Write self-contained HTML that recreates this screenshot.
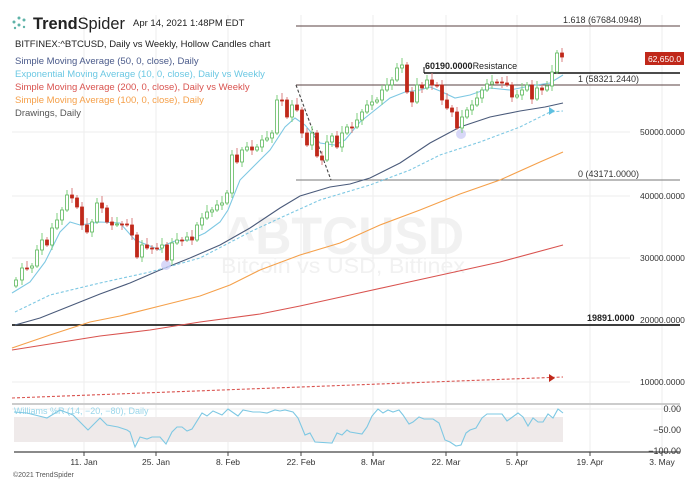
<!DOCTYPE html>
<html><head><meta charset="utf-8"><style>
body{margin:0;background:#fff;width:700px;height:481px;overflow:hidden;font-family:"Liberation Sans",sans-serif}
svg{display:block}
</style></head><body>
<svg id="s" width="700" height="481" xmlns="http://www.w3.org/2000/svg" font-family="Liberation Sans, sans-serif">
<g stroke="#eee" stroke-width="1">
<line x1="84" y1="15" x2="84" y2="452"/><line x1="156" y1="15" x2="156" y2="452"/><line x1="228" y1="15" x2="228" y2="452"/><line x1="301" y1="15" x2="301" y2="452"/><line x1="373" y1="15" x2="373" y2="452"/><line x1="446" y1="15" x2="446" y2="452"/><line x1="517" y1="15" x2="517" y2="452"/><line x1="590" y1="15" x2="590" y2="452"/><line x1="662" y1="15" x2="662" y2="452"/>
<line x1="12" y1="132" x2="630" y2="132"/><line x1="12" y1="196" x2="630" y2="196"/><line x1="12" y1="258" x2="630" y2="258"/><line x1="12" y1="382" x2="630" y2="382"/>
</g>
<text x="345" y="254" text-anchor="middle" font-size="53" font-weight="bold" fill="#f1f1f1" textLength="238" lengthAdjust="spacingAndGlyphs">^BTCUSD</text>
<text x="343" y="273" text-anchor="middle" font-size="21" fill="#f1f1f1" textLength="244" lengthAdjust="spacingAndGlyphs">Bitcoin vs USD, Bitfinex</text>
<!-- logo -->
<g fill="#5fb3a8"><circle cx="14" cy="22" r="1.5"/><circle cx="19" cy="18" r="1.5"/><circle cx="24" cy="20" r="1.5"/><circle cx="19" cy="25" r="1.5"/><circle cx="15" cy="28" r="1.2"/><circle cx="24" cy="27" r="1.2"/></g>
<text x="33" y="29" font-size="17" fill="#222" textLength="92" lengthAdjust="spacingAndGlyphs"><tspan font-weight="bold">Trend</tspan>Spider</text>
<text x="133" y="26" font-size="9.5" fill="#222">Apr 14, 2021 1:48PM EDT</text>
<g font-size="9.5">
<text x="15" y="47" fill="#222">BITFINEX:^BTCUSD, Daily vs Weekly, Hollow Candles chart</text>
<text x="15" y="64" fill="#4a5a8a">Simple Moving Average (50, 0, close), Daily</text>
<text x="15" y="77" fill="#6cc8e3">Exponential Moving Average (10, 0, close), Daily vs Weekly</text>
<text x="15" y="90" fill="#d9534f">Simple Moving Average (200, 0, close), Daily vs Weekly</text>
<text x="15" y="103" fill="#f5a04a">Simple Moving Average (100, 0, close), Daily</text>
<text x="15" y="116" fill="#555">Drawings, Daily</text>
</g>
<!-- fib / horizontal lines -->
<g stroke="#5a4040">
<line x1="296" y1="26" x2="680" y2="26"/>
<line x1="424" y1="73" x2="680" y2="73" stroke="#111" stroke-width="1.5"/>
<line x1="424" y1="67" x2="424" y2="73" stroke="#111"/>
<line x1="296" y1="85" x2="680" y2="85"/>
<line x1="296" y1="180" x2="680" y2="180" stroke="#777"/>
<line x1="12" y1="325" x2="680" y2="325" stroke="#222" stroke-width="1.8"/>
</g>
<g font-size="9" fill="#333">
<text x="563" y="23">1.618 (67684.0948)</text>
<text x="578" y="82">1 (58321.2440)</text>
<text x="578" y="177">0 (43171.0000)</text>
<text x="425" y="69" fill="#222"><tspan font-weight="bold">60190.0000</tspan>Resistance</text>
<text x="587" y="321" font-weight="bold" fill="#222">19891.0000</text>
<text x="640" y="135" font-size="8.5">50000.0000</text>
<text x="640" y="199" font-size="8.5">40000.0000</text>
<text x="640" y="261" font-size="8.5">30000.0000</text>
<text x="640" y="323" font-size="8.5">20000.0000</text>
<text x="640" y="385" font-size="8.5">10000.0000</text>
</g>
<rect x="645" y="52" width="39" height="13" fill="#c0281a"/>
<text x="664.5" y="62" font-size="8.5" fill="#fff" text-anchor="middle">62,650.0</text>
<!-- MAs -->
<g fill="none" stroke-width="1.1">
<polyline stroke="#d9534f" points="12,350 100,336 150,330 200,322 260,314 300,306 350,295 400,284 450,273 500,262 563,245"/>
<polyline stroke="#f5a04a" points="12,348 50,335 90,322 120,316 160,306 200,296 230,285 260,270 300,255 340,243 380,225 420,210 460,194 500,180 540,162 563,152"/>
<polyline stroke="#4a5a7a" points="15,325 40,318 70,306 100,294 130,283 160,270 190,258 220,245 250,228 280,208 300,196 330,187 350,184 370,178 400,163 430,143 460,127 490,117 520,111 545,107 563,103"/>
<polyline stroke="#7ec8e3" stroke-dasharray="3,2" points="15,312 50,295 100,283 150,272 200,258 250,232 280,218 320,200 370,185 410,170 440,155 480,142 520,127 550,112 563,111"/>
<polyline stroke="#7ec8e3" points="12,293 30,282 45,262 60,232 70,222 80,225 100,222 120,223 135,240 160,250 165,245 175,241 190,240 205,233 220,222 228,210 240,180 255,165 270,150 285,127 295,118 305,125 320,143 335,145 345,140 360,122 375,110 390,98 405,92 420,90 430,87 440,91 455,98 470,95 490,88 510,90 530,86 550,83 563,75"/>
<polyline stroke="#d9534f" stroke-dasharray="3,2" points="12,398 563,377"/>
<line x1="296" y1="85" x2="331" y2="180" stroke="#444" stroke-dasharray="3,2"/>
</g>
<polygon points="549,107 555,111 549,115" fill="#5ec0e0"/>
<polygon points="549,374 555,378 549,382" fill="#c0281a"/>
<circle cx="166" cy="265" r="5" fill="#c8c8f5" opacity="0.7"/>
<circle cx="461" cy="134" r="5" fill="#c8c8f5" opacity="0.7"/>
<g id="c"></g>
<!-- williams panel -->
<line x1="12" y1="404" x2="680" y2="404" stroke="#ccc" stroke-width="2"/>
<line x1="12" y1="409" x2="680" y2="409" stroke="#eee"/>
<rect x="14" y="417" width="549" height="25" fill="#efeaea"/>
<line x1="14" y1="452" x2="680" y2="452" stroke="#444" stroke-width="1.2"/>
<text x="14" y="414" font-size="9" fill="#9ad6ea">Williams %R (14, −20, −80), Daily</text>
<polyline fill="none" stroke="#7ec8e3" stroke-width="1.1" points="14,412 27,413 47,418 60,410 73,415 88,430 100,418 107,425 118,427 127,430 130,432 135,447 140,437 147,439 152,437 160,437 166,444 172,432 177,427 182,427 187,431 192,429 202,413 207,416 213,411 222,415 228,409 238,416 243,410 253,412 260,412 267,413 275,410 280,411 285,410 293,412 298,418 305,435 310,433 315,442 332,443 337,433 342,435 347,430 350,432 362,434 367,427 372,416 378,409 383,413 388,410 393,412 399,410 403,415 409,424 413,422 419,417 424,419 433,419 439,423 445,440 450,442 456,446 461,445 466,433 470,430 476,428 482,418 487,414 502,414 507,421 518,413 523,417 528,426 533,418 538,422 543,422 548,414 553,418 558,409 563,413"/>
<g font-size="9" fill="#333">
<text x="681" y="412" text-anchor="end">0.00</text>
<text x="681" y="433" text-anchor="end">−50.00</text>
<text x="681" y="454" text-anchor="end">−100.00</text>
</g>
<g stroke="#444"><line x1="84" y1="452" x2="84" y2="456"/><line x1="156" y1="452" x2="156" y2="456"/><line x1="228" y1="452" x2="228" y2="456"/><line x1="301" y1="452" x2="301" y2="456"/><line x1="373" y1="452" x2="373" y2="456"/><line x1="446" y1="452" x2="446" y2="456"/><line x1="517" y1="452" x2="517" y2="456"/><line x1="590" y1="452" x2="590" y2="456"/><line x1="662" y1="452" x2="662" y2="456"/></g>
<g font-size="8.5" fill="#333" text-anchor="middle">
<text x="84" y="465">11. Jan</text><text x="156" y="465">25. Jan</text><text x="228" y="465">8. Feb</text><text x="301" y="465">22. Feb</text><text x="373" y="465">8. Mar</text><text x="446" y="465">22. Mar</text><text x="517" y="465">5. Apr</text><text x="590" y="465">19. Apr</text><text x="662" y="465">3. May</text>
</g>
<text x="13" y="477" font-size="7" fill="#555">©2021 TrendSpider</text>
</svg>
<script>
var pts=[[16,280],[22,268],[27,268],[32,266],[37,250],[42,240],[47,245],[52,228],[57,220],[62,210],[67,195],[72,198],[77,207],[82,225],[87,232],[92,222],[97,203],[102,208],[107,222],[112,225],[117,224],[122,224],[127,225],[132,235],[137,257],[142,245],[147,248],[152,248],[157,248],[162,245],[167,260],[172,243],[177,240],[182,240],[187,237],[192,240],[197,225],[202,218],[207,212],[212,210],[217,205],[222,203],[227,193],[232,155],[237,162],[242,150],[247,147],[252,150],[257,147],[262,140],[267,138],[272,133],[277,100],[282,100],[287,117],[292,105],[297,110],[302,133],[307,145],[312,133],[317,156],[322,160],[327,142],[332,136],[337,147],[342,133],[347,127],[352,127],[357,120],[362,112],[367,105],[372,102],[377,100],[382,90],[387,85],[392,80],[397,68],[402,65],[407,92],[412,102],[417,85],[422,88],[427,80],[432,85],[437,85],[442,100],[447,108],[452,112],[457,128],[462,117],[467,110],[472,105],[477,98],[482,90],[487,84],[492,82],[497,82],[502,83],[507,85],[512,97],[517,95],[522,90],[527,85],[532,99],[537,88],[542,90],[547,86],[552,72],[557,53],[562,57]];
var h='',prev=pts[0][1]+6;
for(var i=0;i<pts.length;i++){var x=pts[i][0],c=pts[i][1],o=prev;var up=c<o;var t=Math.min(o,c),b=Math.max(o,c);if(b-t<1)b=t+1;
var col=up?'#5cb85c':'#c0281a';var wt=t-3-(i%3)*2,wb=b+2+(i%2)*3;
h+='<line x1="'+x+'" y1="'+wt+'" x2="'+x+'" y2="'+wb+'" stroke="'+(up?'#7fcf7f':'#d98080')+'" stroke-width="1"/>';
h+='<rect x="'+(x-1.5)+'" y="'+t+'" width="3" height="'+(b-t)+'" fill="'+(up?'#fff':col)+'" stroke="'+col+'" stroke-width="0.8"/>';prev=c;}
document.getElementById('c').innerHTML=h;
</script>
</body></html>
